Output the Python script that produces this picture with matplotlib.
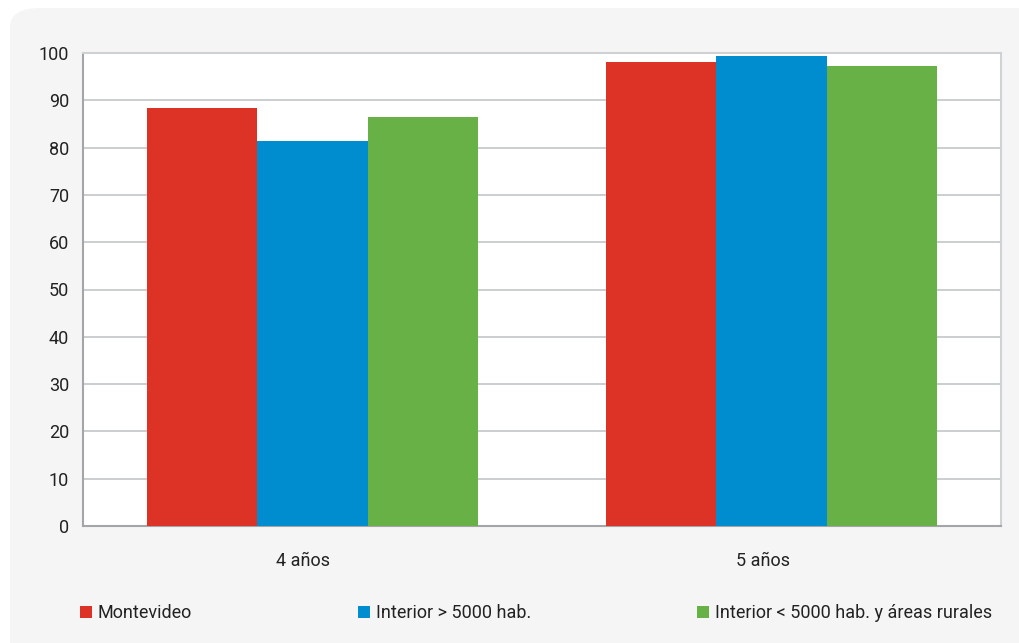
import numpy as np
import matplotlib
matplotlib.use("Agg")
import matplotlib.pyplot as plt
import matplotlib.transforms as mtransforms
from matplotlib.patches import FancyBboxPatch

plt.rcParams['font.family'] = ['Roboto', 'DejaVu Sans']

categories = ['4 años', '5 años']
series_names = ['Montevideo', 'Interior > 5000 hab.', 'Interior < 5000 hab. y áreas rurales']
montevideo = [88.4, 98.1]
interior_mas = [81.4, 99.3]
interior_menos = [86.5, 97.2]
yticks = [0, 10, 20, 30, 40, 50, 60, 70, 80, 90, 100]

colors = ['#dd3326', '#008dd0', '#68b146']
values = [montevideo, interior_mas, interior_menos]

W, H = 1019, 643
fig = plt.figure(figsize=(W / 100, H / 100), dpi=100)
fig.patch.set_facecolor('white')

# light rounded panel behind everything
panel = FancyBboxPatch((10 / W, -0.1), 1.2, (H - 8) / H + 0.1,
                       boxstyle="round,pad=0,rounding_size=0.03",
                       transform=fig.transFigure, facecolor='#f5f5f5',
                       edgecolor='none', zorder=-10)
fig.patches.append(panel)

ax = fig.add_axes([83 / W, 1 - 526 / H, (1001 - 83) / W, (526 - 53) / H])
ax.set_facecolor('white')

x = np.arange(len(categories))
width = 0.24
for i, (vals, name, c) in enumerate(zip(values, series_names, colors)):
    ax.bar(x + (i - 1) * width, vals, width, color=c, label=name, zorder=3)

ax.set_xlim(-0.5, 1.5)
ax.set_ylim(0, 100)
ax.set_yticks(yticks)
ax.set_xticks(x)
ax.set_xticklabels(categories)
ax.yaxis.grid(True, color='#cbced1', linewidth=1.4, zorder=0)
ax.tick_params(axis='both', length=0, labelsize=13, colors='#222222')
ax.tick_params(axis='y', pad=10)
ax.tick_params(axis='x', pad=19)

# category labels sit a little left of the group centre
shift = mtransforms.ScaledTranslation(-9 / 100, 0, fig.dpi_scale_trans)
for lbl in ax.get_xticklabels():
    lbl.set_transform(lbl.get_transform() + shift)

for side in ['top', 'right']:
    ax.spines[side].set_color('#cfd2d5')
    ax.spines[side].set_linewidth(1.5)
for side in ['left', 'bottom']:
    ax.spines[side].set_color('#a3a5a7')
    ax.spines[side].set_linewidth(1.5)

handles, labels = ax.get_legend_handles_labels()
fig.legend(handles, labels, ncol=3, loc='center left',
           bbox_to_anchor=(80 / W, 1 - 613 / H), frameon=False,
           borderaxespad=0, borderpad=0,
           fontsize=13, handlelength=0.66, handleheight=0.66,
           handletextpad=0.33, columnspacing=9.2, labelcolor='#222222')

fig.savefig('out.png', dpi=100, facecolor=fig.get_facecolor())
